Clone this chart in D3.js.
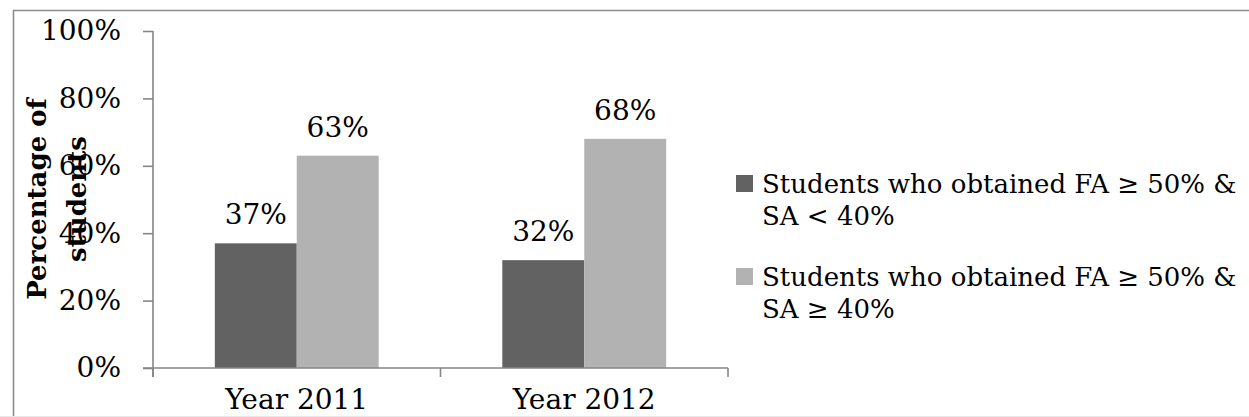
<!DOCTYPE html>
<html>
<head>
<meta charset="utf-8">
<script src="https://cdn.jsdelivr.net/npm/d3@7"></script>
<style>
  html, body { margin: 0; padding: 0; background: #fff; overflow: hidden; }
  svg { display: block; }
  text { font-family: "DejaVu Serif", "Liberation Serif", serif; fill: #000; }
</style>
</head>
<body>
<svg id="chart" width="1249" height="417"></svg>
<script>
// Data
const categories = ["Year 2011", "Year 2012"];
const seriesNames = [
  ["Students who obtained FA \u2265 50% &", "SA < 40%"],
  ["Students who obtained FA \u2265 50% &", "SA \u2265 40%"]
];
const belowValues = [0.37, 0.32];   // FA >= 50% & SA < 40%
const aboveValues = [0.63, 0.68];   // FA >= 50% & SA >= 40%
const yTicks = [0, 0.2, 0.4, 0.6, 0.8, 1.0];
const yTitle = ["Percentage of", "students"];

const seriesValues = [belowValues, aboveValues];
const colors = ["#626262", "#b2b2b2"];
const axisColor = "#868686";
const numSize = 28;
const legendSize = 26;

const svg = d3.select("#chart");

// Outer frame
svg.append("path")
  .attr("d", "M13.5,417 V10.5 H1249")
  .attr("fill", "none").attr("stroke", "#8c8c8c").attr("stroke-width", 1.6);
svg.append("line")
  .attr("x1", 0).attr("x2", 1249).attr("y1", 416.5).attr("y2", 416.5)
  .attr("stroke", "#e8e8e8").attr("stroke-width", 1);

const plot = { left: 153, right: 728, top: 31, bottom: 368 };

const y = d3.scaleLinear().domain([0, 1]).range([plot.bottom, plot.top]);
const x0 = d3.scaleBand().domain(categories)
  .range([plot.left, plot.right]).paddingInner(0.43).paddingOuter(0.215);
const x1 = d3.scaleBand().domain(d3.range(seriesValues.length))
  .range([0, x0.bandwidth()]);

// Bars
const groups = svg.append("g").selectAll("g")
  .data(categories).join("g")
  .attr("transform", d => `translate(${x0(d)},0)`);

groups.selectAll("rect")
  .data((c, i) => seriesValues.map((s, k) => ({ k, v: s[i] })))
  .join("rect")
  .attr("x", d => x1(d.k))
  .attr("width", x1.bandwidth())
  .attr("y", d => y(d.v))
  .attr("height", d => y(0) - y(d.v))
  .attr("fill", d => colors[d.k]);

// Value labels
groups.selectAll("text.val")
  .data((c, i) => seriesValues.map((s, k) => ({ k, v: s[i] })))
  .join("text").attr("class", "val")
  .attr("x", d => x1(d.k) + x1.bandwidth() / 2)
  .attr("y", d => y(d.v) - 19)
  .attr("text-anchor", "middle")
  .attr("font-size", numSize)
  .text(d => d3.format(".0%")(d.v));

// Y axis
const yAxis = d3.axisLeft(y).tickValues(yTicks).tickFormat(d3.format(".0%"))
  .tickSize(10).tickPadding(22);
const gy = svg.append("g").attr("transform", `translate(${plot.left},0)`).call(yAxis);
gy.select(".domain").remove();
gy.selectAll(".tick line").attr("stroke", axisColor).attr("stroke-width", 1.6);
gy.selectAll(".tick text").attr("font-size", numSize)
  .attr("font-family", "DejaVu Serif, Liberation Serif, serif").attr("fill", "#000");
svg.append("line")
  .attr("x1", plot.left).attr("x2", plot.left)
  .attr("y1", plot.top).attr("y2", plot.bottom + 9)
  .attr("stroke", axisColor).attr("stroke-width", 1.6);

// X axis line and category boundary ticks
svg.append("line")
  .attr("x1", plot.left - 10).attr("x2", plot.right)
  .attr("y1", plot.bottom).attr("y2", plot.bottom)
  .attr("stroke", axisColor).attr("stroke-width", 1.6);
const step = x0.step();
const boundaries = d3.range(categories.length + 1).map(i => plot.left + i * step);
svg.append("g").selectAll("line").data(boundaries).join("line")
  .attr("x1", d => d).attr("x2", d => d)
  .attr("y1", plot.bottom).attr("y2", plot.bottom + 9)
  .attr("stroke", axisColor).attr("stroke-width", 1.6);

// Category labels
svg.append("g").selectAll("text").data(categories).join("text")
  .attr("x", d => x0(d) + x0.bandwidth() / 2)
  .attr("y", 409)
  .attr("text-anchor", "middle")
  .attr("font-size", numSize)
  .text(d => d);

// Y axis title (two lines, rotated)
const title = svg.append("text")
  .attr("transform", "translate(0,199) rotate(-90)")
  .attr("text-anchor", "middle")
  .attr("font-size", 26)
  .attr("font-weight", "bold");
title.selectAll("tspan").data(yTitle).join("tspan")
  .attr("x", 0)
  .attr("y", (d, i) => 46 + i * 40)
  .text(d => d);

// Legend
const legend = svg.append("g").selectAll("g")
  .data(seriesNames).join("g")
  .attr("transform", (d, i) => `translate(736,${175 + i * 93})`);
legend.append("rect")
  .attr("width", 17).attr("height", 17)
  .attr("fill", (d, i) => colors[i]);
legend.each(function (lines) {
  const t = d3.select(this).append("text").attr("font-size", legendSize);
  t.selectAll("tspan").data(lines).join("tspan")
    .attr("x", 26)
    .attr("y", (d, i) => 18 + i * 32)
    .text(d => d);
});
</script>
</body>
</html>
